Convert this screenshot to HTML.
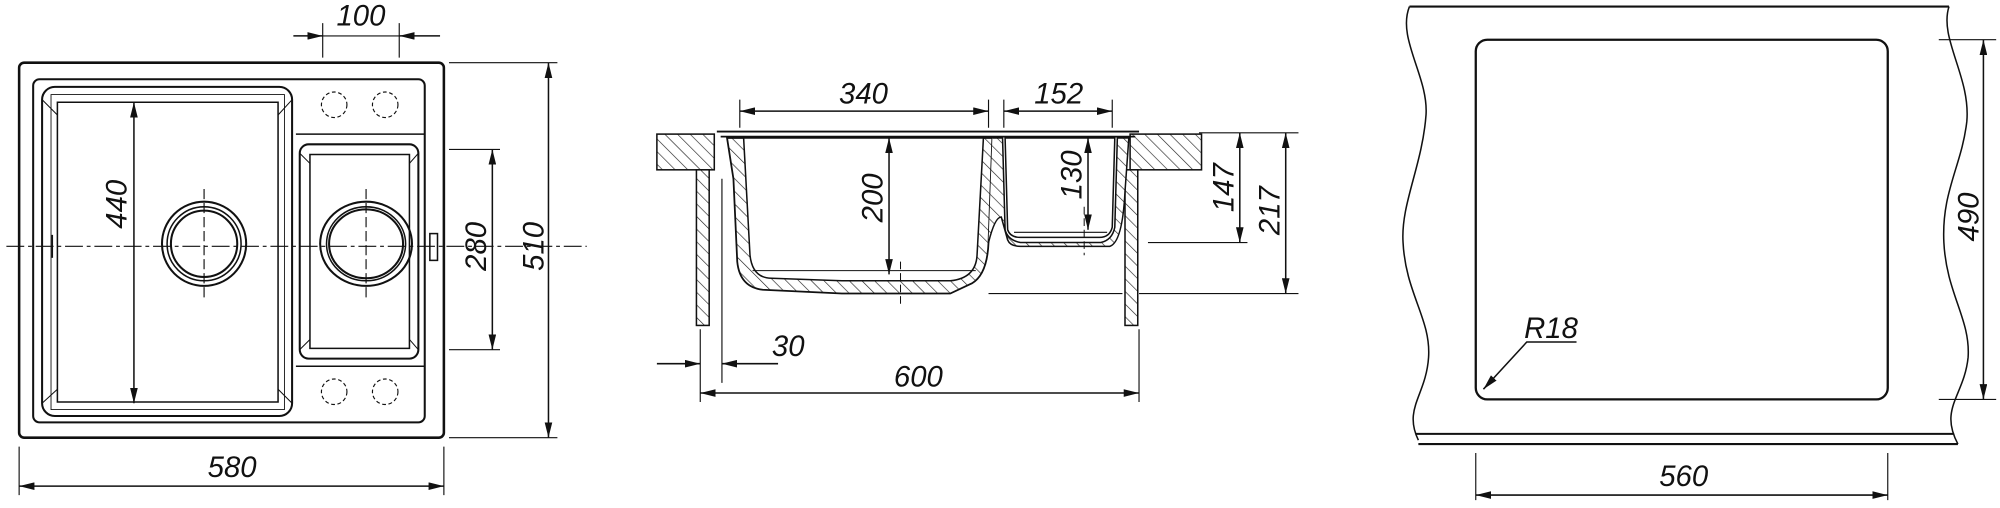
<!DOCTYPE html>
<html><head><meta charset="utf-8"><style>
html,body{margin:0;padding:0;background:#fff;}
svg{display:block;}
text{font-family:"Liberation Sans",sans-serif;font-style:italic;font-size:23px;fill:#111;}
</style></head><body>
<svg width="2000" height="508" viewBox="0 0 1568 398" xmlns="http://www.w3.org/2000/svg">
<defs>
<pattern id="h" width="7" height="7" patternUnits="userSpaceOnUse" patternTransform="rotate(-45)">
<rect width="7" height="7" fill="#fff"/><line x1="0" y1="0" x2="0" y2="7" stroke="#222" stroke-width="1"/></pattern>
<marker id="a" viewBox="0 0 12 6" refX="12" refY="3" markerWidth="12" markerHeight="6" orient="auto-start-reverse" markerUnits="userSpaceOnUse"><path d="M0,0L12,3L0,6z" fill="#111"/></marker>
</defs>
<g fill="none" stroke="#111" stroke-width="1.2">
<!-- LEFT VIEW -->
<rect x="15" y="49" width="333" height="294" rx="4" stroke-width="2"/>
<rect x="26" y="62" width="307" height="269" rx="5" stroke-width="1.6"/>
<rect x="33" y="68" width="196" height="258" rx="10" stroke-width="1.6"/>
<path d="M45,80 H218 V315 H45 Z"/>
<path d="M40,74 H223 V321 H40 Z" stroke-width="0.7"/>
<path d="M33,78 L45,90 M229,78 L218,90 M33,316 L45,305 M229,316 L218,305" stroke-width="0.8"/>
<path d="M232,105 H333 M232,287 H333"/>
<rect x="235" y="113" width="93" height="168" rx="7" stroke-width="1.6"/>
<path d="M243,121 H321 V273 H243 Z"/>
<path d="M235,120 L243,128 M328,120 L321,128 M235,274 L243,266 M328,274 L321,266" stroke-width="0.8"/>
<circle cx="160" cy="191" r="33" stroke-width="1.6"/><circle cx="160" cy="191" r="29"/><circle cx="160" cy="191" r="26" stroke-width="1.6"/>
<ellipse cx="287" cy="191" rx="36" ry="33" stroke-width="1.6"/><ellipse cx="287" cy="191" rx="31" ry="29"/><ellipse cx="287" cy="191" rx="29" ry="27" stroke-width="1.6"/>
<g stroke-dasharray="3,2" stroke-width="0.9">
<circle cx="262" cy="82" r="10"/><circle cx="302" cy="82" r="10"/><circle cx="262" cy="307" r="10"/><circle cx="302" cy="307" r="10"/>
</g>
<path d="M5,193 H460" stroke-dasharray="14,3,3,3" stroke-width="0.9"/>
<path d="M160,148 V236 M287,148 V236" stroke-dasharray="8,3" stroke-width="0.9"/>
<rect x="337" y="183" width="6" height="21"/>
<path d="M41,184 V202" />
<!-- dims left -->
<path d="M253,18 V45 M313,18 V45 M352,49 H437 M352,343 H437 M352,117 H392 M352,274 H392 M15,350 V388 M348,350 V388" stroke-width="0.9"/>
<path d="M230,28 H253" marker-end="url(#a)"/><path d="M345,28 H313" marker-end="url(#a)"/><path d="M253,28 H313" stroke-width="0.9"/>
<path d="M430,49 V343" marker-start="url(#a)" marker-end="url(#a)"/>
<path d="M386,117 V274" marker-start="url(#a)" marker-end="url(#a)"/>
<path d="M105,80 V316" marker-start="url(#a)" marker-end="url(#a)"/>
<path d="M15,381 H348" marker-start="url(#a)" marker-end="url(#a)"/>

<!-- MIDDLE VIEW -->
<rect x="515" y="105" width="45" height="28" fill="url(#h)"/>
<rect x="886" y="105" width="56" height="28" fill="url(#h)"/>
<rect x="546" y="133" width="10" height="122" fill="url(#h)"/>
<rect x="882" y="133" width="10" height="122" fill="url(#h)"/>
<path d="M562,103 H893 M565,107 H890" stroke-width="1.4"/>
<path d="M570,108 L575,140 L578,205 Q580,225 598,227 L660,230 H745 L762,222 Q774,215 775,190 L778,108 Z" fill="url(#h)" stroke-width="1.4"/>
<path d="M583,108 L588,200 Q590,218 605,218 L660,220 H745 Q765,218 766,200 L771,108 Z" fill="#fff"/>
<path d="M778,108 L786,108 L788,180 Q790,188 800,190 H863 Q872,188 874,178 L876,108 L885,108 L882,150 Q880,190 870,193 H800 Q792,193 790,188 L785,170 Q780,170 775,190" fill="url(#h)" stroke-width="1.2"/>
<path d="M788,108 L790,180 Q792,186 800,186 H862 Q870,186 872,178 L874,108 Z" fill="#fff"/>
<path d="M590,212 H765 M795,182 H868" stroke-width="0.8"/>
<path d="M706,205 V240 M850,162 V200" stroke-dasharray="6,3" stroke-width="0.8"/>
<path d="M580,78 V100 M775,78 V100 M787,78 V100 M872,78 V100" stroke-width="0.9"/>
<path d="M580,87 H775" marker-start="url(#a)" marker-end="url(#a)"/>
<path d="M787,87 H872" marker-start="url(#a)" marker-end="url(#a)"/>
<path d="M697,108 V215" marker-start="url(#a)" marker-end="url(#a)"/>
<path d="M853,108 V180" marker-start="url(#a)" marker-end="url(#a)"/>
<path d="M940,104 H1018 M900,190 H978 M775,230 H880 M893,230 H1018" stroke-width="0.9"/>
<path d="M972,104 V190" marker-start="url(#a)" marker-end="url(#a)"/>
<path d="M1008,104 V230" marker-start="url(#a)" marker-end="url(#a)"/>
<path d="M549,258 V315 M566,140 V300 M893,258 V315" stroke-width="0.9"/>
<path d="M515,285 H549" marker-end="url(#a)"/><path d="M610,285 H566" marker-end="url(#a)"/>
<path d="M549,308 H893" marker-start="url(#a)" marker-end="url(#a)"/>

<!-- RIGHT VIEW -->
<path d="M1105,5 H1528" stroke-width="1.6"/>
<path d="M1105,5 C1095,30 1120,60 1118,90 C1115,130 1098,160 1100,190 C1102,230 1122,250 1120,280 C1118,310 1100,320 1112,345" />
<path d="M1528,5 C1520,30 1545,60 1542,95 C1538,130 1522,150 1524,190 C1526,230 1545,250 1543,280 C1540,310 1520,320 1535,348"/>
<path d="M1110,340 H1532 M1112,348 H1535" stroke-width="1.6"/>
<rect x="1157" y="31" width="323" height="282" rx="9" stroke-width="1.8"/>
<path d="M1520,31 H1565 M1520,313 H1565 M1157,355 V392 M1480,355 V392" stroke-width="0.9"/>
<path d="M1555,31 V313" marker-start="url(#a)" marker-end="url(#a)"/>
<path d="M1157,388 H1480" marker-start="url(#a)" marker-end="url(#a)"/>
<path d="M1236,268 H1197 L1163,305" marker-end="url(#a)"/>
</g>
<g>
<text x="283" y="20" text-anchor="middle">100</text>
<text x="182" y="374" text-anchor="middle">580</text>
<text transform="translate(99,160) rotate(-90)" text-anchor="middle">440</text>
<text transform="translate(381,193) rotate(-90)" text-anchor="middle">280</text>
<text transform="translate(426,193) rotate(-90)" text-anchor="middle">510</text>
<text x="677" y="81" text-anchor="middle">340</text>
<text x="830" y="81" text-anchor="middle">152</text>
<text transform="translate(692,155) rotate(-90)" text-anchor="middle">200</text>
<text transform="translate(848,137) rotate(-90)" text-anchor="middle">130</text>
<text transform="translate(967,147) rotate(-90)" text-anchor="middle">147</text>
<text transform="translate(1003,165) rotate(-90)" text-anchor="middle">217</text>
<text x="618" y="279" text-anchor="middle">30</text>
<text x="720" y="303" text-anchor="middle">600</text>
<text transform="translate(1551,170) rotate(-90)" text-anchor="middle">490</text>
<text x="1320" y="381" text-anchor="middle">560</text>
<text x="1216" y="265" text-anchor="middle">R18</text>
</g>
</svg>
</body></html>
